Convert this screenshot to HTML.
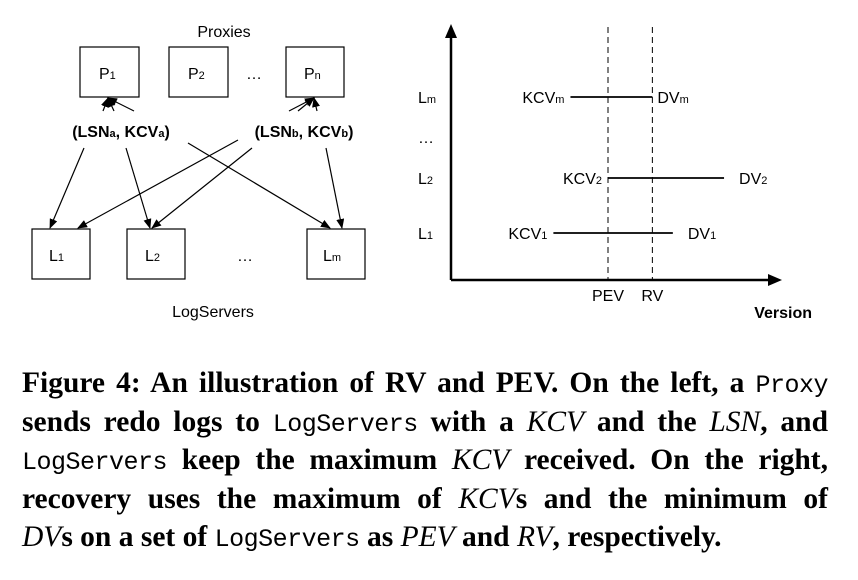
<!DOCTYPE html>
<html><head><meta charset="utf-8"><style>
body{margin:0;background:#fff;width:858px;height:580px;overflow:hidden}
.cap{position:absolute;left:22px;width:806px;font-family:"Liberation Serif",serif;font-weight:bold;font-size:29.5px;color:#000;white-space:nowrap}
.ln{height:38.5px;line-height:38.5px;text-align:justify;text-align-last:justify}
.ln.last{text-align-last:left}
.m{font-family:"Liberation Mono",monospace;font-weight:normal;font-size:25px;letter-spacing:-0.5px}
.i{font-style:italic;font-weight:normal}
</style></head><body>
<svg width="858" height="340" style="position:absolute;left:0;top:0" font-family="Liberation Sans, sans-serif">
<defs><marker id="ah" markerWidth="10" markerHeight="8" refX="9" refY="4" orient="auto" markerUnits="userSpaceOnUse"><path d="M0,0L10,4L0,8z" fill="#000"/></marker>
<marker id="big" markerWidth="14" markerHeight="12" refX="2" refY="6" orient="auto" markerUnits="userSpaceOnUse"><path d="M0,0L14,6L0,12z" fill="#000"/></marker></defs>
<g stroke="#000" fill="none" stroke-width="1.2">
<text x="224" y="37" font-size="16" text-anchor="middle" stroke="none" fill="#000">Proxies</text>
<rect x="80" y="47" width="59" height="50"/>
<rect x="169" y="47" width="59" height="50"/>
<rect x="286" y="47" width="58" height="50"/>
<rect x="32" y="229" width="58" height="50"/>
<rect x="127" y="229" width="58" height="50"/>
<rect x="307" y="229" width="58" height="50"/>
<g stroke="none" fill="#000" font-size="16">
<text x="99" y="79">P<tspan font-size="11">1</tspan></text>
<text x="188" y="79">P<tspan font-size="11">2</tspan></text>
<text x="246" y="79">…</text>
<text x="304" y="79">P<tspan font-size="11">n</tspan></text>
<text x="49" y="261">L<tspan font-size="11">1</tspan></text>
<text x="145" y="261">L<tspan font-size="11">2</tspan></text>
<text x="237" y="261">…</text>
<text x="323" y="261">L<tspan font-size="11">m</tspan></text>
<text x="121" y="137" font-weight="bold" text-anchor="middle">(LSN<tspan font-size="11">a</tspan>, KCV<tspan font-size="11">a</tspan>)</text>
<text x="304" y="137" font-weight="bold" text-anchor="middle">(LSN<tspan font-size="11">b</tspan>, KCV<tspan font-size="11">b</tspan>)</text>
<text x="213" y="317" text-anchor="middle">LogServers</text>
</g>
<g marker-end="url(#ah)">
<line x1="103" y1="111" x2="108" y2="98"/><line x1="114" y1="111" x2="108" y2="98"/><line x1="134" y1="111" x2="108" y2="98"/>
<line x1="289" y1="111" x2="314" y2="98"/><line x1="298" y1="111" x2="314" y2="98"/><line x1="317" y1="111" x2="314" y2="98"/>
<line x1="84" y1="148" x2="50" y2="228"/><line x1="126" y1="148" x2="150" y2="228"/>
<line x1="188" y1="143" x2="330" y2="228"/><line x1="238" y1="140" x2="78" y2="228"/>
<line x1="252" y1="148" x2="152" y2="228"/><line x1="326" y1="148" x2="342" y2="228"/>
</g></g>
<g id="chart"></g>
</svg>
<div class="cap" style="top:364px">
<div class="ln">Figure 4: An illustration of RV and PEV. On the left, a <span class="m">Proxy</span></div>
<div class="ln">sends redo logs to <span class="m">LogServers</span> with a <span class="i">KCV</span> and the <span class="i">LSN</span>, and</div>
<div class="ln"><span class="m">LogServers</span> keep the maximum <span class="i">KCV</span> received. On the right,</div>
<div class="ln">recovery uses the maximum of <span class="i">KCV</span>s and the minimum of</div>
<div class="ln last"><span class="i">DV</span>s on a set of <span class="m">LogServers</span> as <span class="i">PEV</span> and <span class="i">RV</span>, respectively.</div>
</div>
<script>
const rowLabels=["m","2","1"];
const rowY=[97,178,233];
const kcvValues=[35,46,30];
const dvValues=[59,80,65];
const pevValue=46;
const rvValue=59;
const NS="http://www.w3.org/2000/svg";
const g=document.getElementById('chart');
const xs=v=>451+(v-0)*(608-451)/46;
function mk(t,a,p){const e=document.createElementNS(NS,t);for(const k in a)e.setAttribute(k,a[k]);(p||g).appendChild(e);return e;}
let ax=mk('line',{x1:451,y1:280,x2:451,y2:36,stroke:'#000','stroke-width':2.5,'marker-end':'url(#big)'});


ax=mk('line',{x1:451,y1:280,x2:770,y2:280,stroke:'#000','stroke-width':2.5,'marker-end':'url(#big)'});


[[pevValue,'PEV'],[rvValue,'RV']].forEach(([v,l])=>{
 const d=mk('line',{x1:xs(v),y1:27,x2:xs(v),y2:280,stroke:'#000','stroke-width':1,'stroke-dasharray':'6,4'});
 
 
 const t=mk('text',{x:xs(v),y:301,'font-size':16,'text-anchor':'middle'});t.textContent=l;
 
 
});
const ver=mk('text',{x:812,y:318,'font-size':16,'font-weight':'bold','text-anchor':'end'});ver.textContent='Version';


const dots=mk('text',{x:418,y:143,'font-size':16});dots.textContent='…';


rowLabels.forEach((s,i)=>{
 const y=rowY[i];
 const lb=mk('text',{x:418,y:y+6,'font-size':16});lb.innerHTML='L<tspan font-size="11">'+s+'</tspan>';
 
 
 const x1=xs(kcvValues[i]),x2=xs(dvValues[i]);
 const ln=mk('line',{x1:x1,y1:y,x2:x2,y2:y,stroke:'#000','stroke-width':1.8});
 
 
 const k=mk('text',{x:x1-6,y:y+6,'font-size':16,'text-anchor':'end'});k.innerHTML='KCV<tspan font-size="11">'+s+'</tspan>';
 
 
 const d=mk('text',{x:x2+(i==0?5:15),y:y+6,'font-size':16});d.innerHTML='DV<tspan font-size="11">'+s+'</tspan>';
 
 
});
</script>
</body></html>
